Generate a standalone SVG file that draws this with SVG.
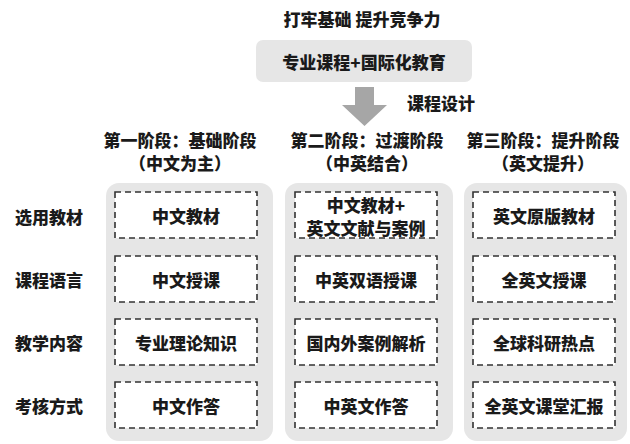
<svg xmlns="http://www.w3.org/2000/svg" width="630" height="444" viewBox="0 0 630 444">
<style>
text{font-family:"Noto Sans CJK SC","Noto Sans",sans-serif;font-weight:900;fill:#1a1a1a;text-anchor:middle;dominant-baseline:central;font-size:17px}
.panel{fill:#e6e6e6}
.cell{fill:#fff;stroke:#333;stroke-width:1.6;stroke-dasharray:6,4}
</style>
<rect width="630" height="444" fill="#fff"/>
<g id="title"><text x="362" y="18">打牢基础 提升竞争力</text></g>
<g id="top-box">
<rect x="256" y="40" width="216" height="42" rx="7" fill="#e6e6e6"/>
<text x="364" y="61">专业课程+国际化教育</text>
</g>
<g id="connectors">
<polygon points="355,87 374,87 374,105 387,105 364.5,126 342,105 355,105" fill="#a6a6a6"/>
<text x="441" y="102">课程设计</text>
</g>
<g id="headers">
<text x="180" y="139">第一阶段：基础阶段</text>
<text x="180" y="162">（中文为主）</text>
<text x="367" y="139">第二阶段：过渡阶段</text>
<text x="367" y="162">（中英结合）</text>
<text x="543" y="139">第三阶段：提升阶段</text>
<text x="543" y="162">（英文提升）</text>
</g>
<g id="row-labels">
<text x="49" y="216">选用教材</text>
<text x="49" y="279">课程语言</text>
<text x="49" y="342">教学内容</text>
<text x="49" y="405">考核方式</text>
</g>
<g id="stage1">
<rect class="panel" x="106" y="183" width="167" height="258" rx="13"/>
<rect class="cell" x="115" y="192" width="142" height="46"/><text x="186" y="215">中文教材</text>
<rect class="cell" x="115" y="256" width="142" height="46"/><text x="186" y="279">中文授课</text>
<rect class="cell" x="115" y="319" width="142" height="46"/><text x="186" y="342">专业理论知识</text>
<rect class="cell" x="115" y="382" width="142" height="46"/><text x="186" y="405">中文作答</text>
</g>
<g id="stage2">
<rect class="panel" x="285" y="183" width="168" height="258" rx="13"/>
<rect class="cell" x="295" y="192" width="142" height="46"/><text x="366" y="204">中文教材+</text><text x="366" y="227">英文文献与案例</text>
<rect class="cell" x="295" y="256" width="142" height="46"/><text x="366" y="279">中英双语授课</text>
<rect class="cell" x="295" y="319" width="142" height="46"/><text x="366" y="342">国内外案例解析</text>
<rect class="cell" x="295" y="382" width="142" height="46"/><text x="366" y="405">中英文作答</text>
</g>
<g id="stage3">
<rect class="panel" x="464" y="183" width="163" height="258" rx="13"/>
<rect class="cell" x="473" y="192" width="142" height="46"/><text x="544" y="215">英文原版教材</text>
<rect class="cell" x="473" y="256" width="142" height="46"/><text x="544" y="279">全英文授课</text>
<rect class="cell" x="473" y="319" width="142" height="46"/><text x="544" y="342">全球科研热点</text>
<rect class="cell" x="473" y="382" width="142" height="46"/><text x="544" y="405">全英文课堂汇报</text>
</g>
</svg>
